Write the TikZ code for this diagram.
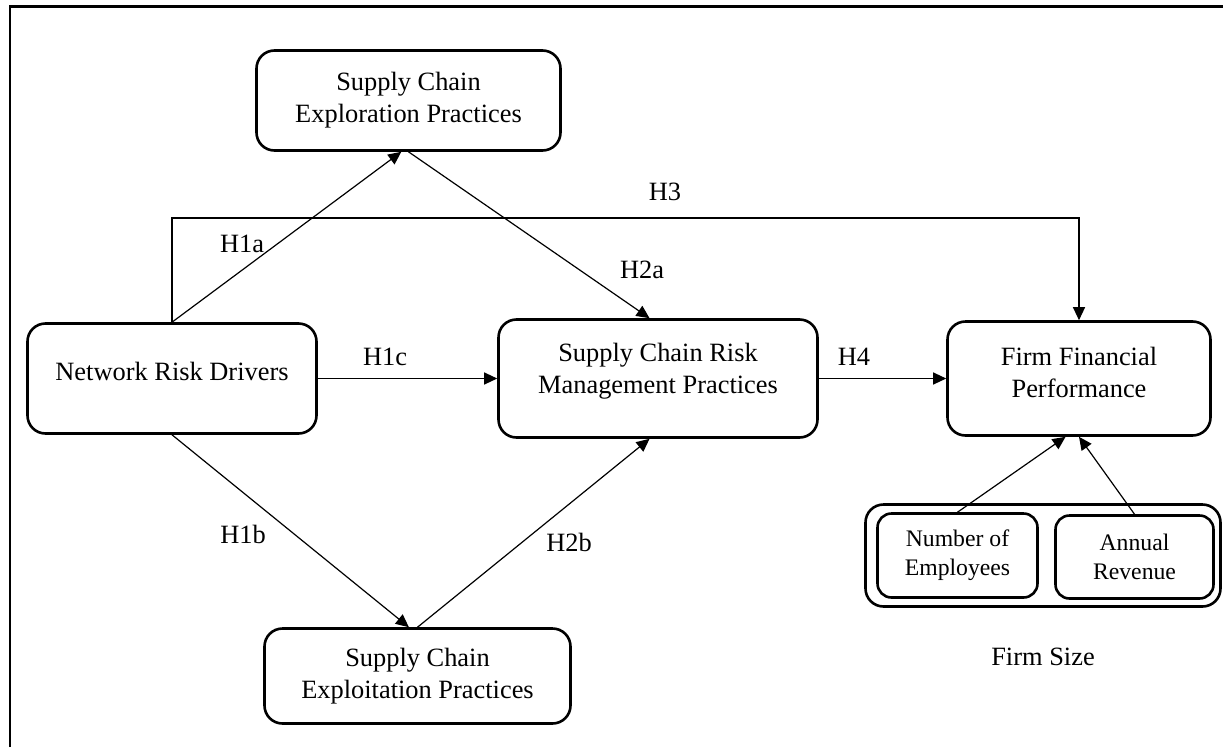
\documentclass[tikz,border=0pt]{standalone}
\usepackage{fontspec}
\setmainfont{Liberation Serif}
\usetikzlibrary{arrows.meta,positioning}
\tikzset{
    rounded-box/.style = {draw=black, fill=white, line width=2.6pt, rectangle, rounded corners=18pt, align=center, font=\fontsize{26.4}{32}\selectfont},
    small-box/.style = {rounded-box, rounded corners=14pt, font=\fontsize{23.7}{29}\selectfont},
    hyp-label/.style = {font=\fontsize{26.4}{32}\selectfont, inner sep=0pt},
    hyp-arrow/.style = {-{Triangle[length=13pt,width=12pt]}, line width=1.2pt},
}
\begin{document}
\begin{tikzpicture}[x=1pt, y=-1pt]
\useasboundingbox (0,0) rectangle (1223,747);
% frame, cut at the right and bottom
\draw[line width=2.8pt] (10,747) -- (10,6.5) -- (1223,6.5);

% constructs
\node[rounded-box, minimum width=304pt, minimum height=100pt] (explore) at (408.5,100.5) {Supply Chain\\Exploration Practices};
\node[rounded-box, minimum width=289pt, minimum height=110pt, text depth=15pt] (network) at (172,378.5) {Network Risk Drivers};
\node[rounded-box, minimum width=319pt, minimum height=118pt, text depth=20pt] (scrm) at (658,378.5) {Supply Chain Risk\\Management Practices};
\node[rounded-box, minimum width=263pt, minimum height=114pt, text depth=12pt] (ffp) at (1079,378.5) {Firm Financial\\Performance};
\node[rounded-box, minimum width=306pt, minimum height=95pt] (exploit) at (417.5,676) {Supply Chain\\Exploitation Practices};

% control variables
\node[rounded-box, minimum width=355pt, minimum height=102pt] (fsize) at (1043,555.5) {};
\node[small-box, minimum width=160pt, minimum height=84pt] (employees) at (957.5,555.5) {Number of\\Employees};
\node[small-box, minimum width=158pt, minimum height=83pt] (revenue) at (1134.5,557) {Annual\\Revenue};
\node[hyp-label, below=40pt of fsize] (fsizelabel) {Firm Size};

% hypotheses
\coordinate (h3top) at (0,218);
\draw[hyp-arrow] (network.north) -- (explore.262);
\draw[hyp-arrow] (explore.south) -- (scrm.98);
\draw[hyp-arrow] (network.north) |- (h3top -| ffp.north) -- (ffp.north);
\draw[hyp-arrow] (network.east) -- (scrm.west);
\draw[hyp-arrow] (scrm.east) -- (ffp.west);
\draw[hyp-arrow] (network.south) -- (exploit.100);
\draw[hyp-arrow] (exploit.north) -- (scrm.262);
\draw[hyp-arrow] (employees.north) -- (ffp.257);
\draw[hyp-arrow] (revenue.north) -- (ffp.south);

\node[hyp-label] (h1a) at (242,244) {H1a};
\node[hyp-label] (h1b) at (243,534) {H1b};
\node[hyp-label] (h1c) at (385,357) {H1c};
\node[hyp-label] (h2a) at (642,270) {H2a};
\node[hyp-label] (h2b) at (569,542) {H2b};
\node[hyp-label] (h3) at (665,192) {H3};
\node[hyp-label] (h4) at (854,357) {H4};
\end{tikzpicture}
\end{document}
